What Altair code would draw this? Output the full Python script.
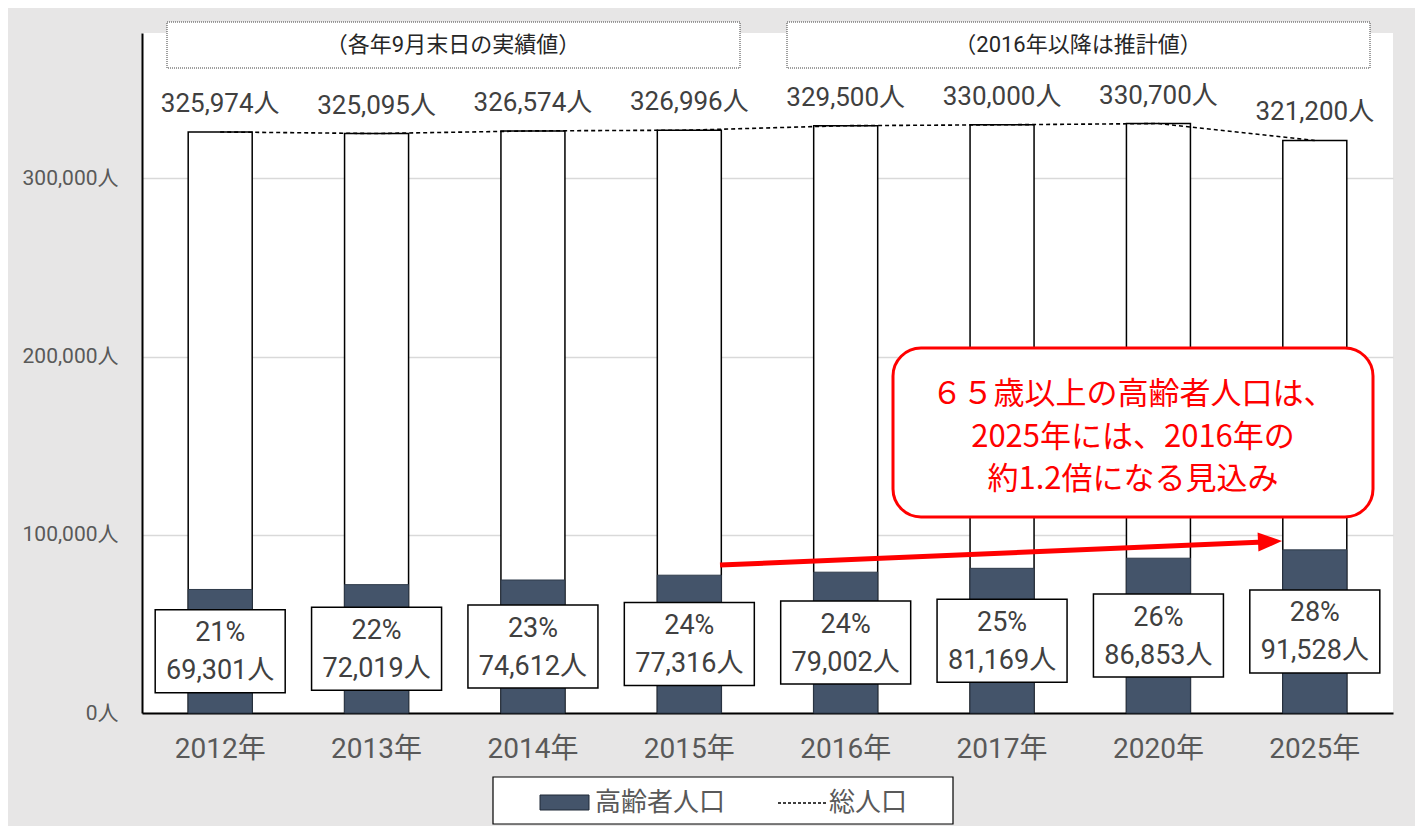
import altair as alt
import pandas as pd

years = ["2012年", "2013年", "2014年", "2015年", "2016年", "2017年", "2020年", "2025年"]
total = [325974, 325095, 326574, 326996, 329500, 330000, 330700, 321200]
elderly = [69301, 72019, 74612, 77316, 79002, 81169, 86853, 91528]
share = ["21%", "22%", "23%", "24%", "24%", "25%", "26%", "28%"]
y_ticks = [0, 100000, 200000, 300000]

df = pd.DataFrame({"year": years, "total": total, "elderly": elderly, "share": share})
df["total_label"] = [f"{v:,}人" for v in total]
df["box_label"] = [f"{s}\n{e:,}人" for s, e in zip(share, elderly)]
df["mid"] = df["elderly"] / 2

W, H = 1251, 680
YMAX = 381500
FONT = "Roboto, Noto Sans CJK JP"
JP = "Noto Sans CJK JP"
DARK = "#44546a"
RED = "#ff0000"

xaxis = alt.Axis(title=None, labelAngle=0, ticks=False, domainColor="black", domainWidth=2,
                 labelFontSize=28, labelColor="#595959", labelPadding=22, labelFont=FONT,
                 grid=False)
xscale = alt.Scale(paddingInner=0.5907, paddingOuter=0.2954)
yaxis = alt.Axis(title=None, values=y_ticks, labelExpr="format(datum.value, ',') + '人'",
                 ticks=False, domainColor="black", domainWidth=2, gridColor="#d9d9d9",
                 gridWidth=1.5, labelFontSize=21, labelColor="#595959", labelPadding=24,
                 labelFont=FONT)
yscale = alt.Scale(domain=[0, YMAX], nice=False, zero=True)


def X():
    return alt.X("year:N", sort=years, scale=xscale, axis=xaxis)


def Y(field):
    return alt.Y(field, scale=yscale, axis=yaxis)


base = alt.Chart(df)

tot_bar = base.mark_bar(fill="white", stroke="black", strokeWidth=1.5).encode(x=X(), y=Y("total:Q"))
eld_bar = base.mark_bar(fill=DARK, stroke="#2e3a4a", strokeWidth=1).encode(x=X(), y=Y("elderly:Q"))
line = base.mark_line(color="black", strokeDash=[4, 3], strokeWidth=1.6).encode(x=X(), y=Y("total:Q"))
tot_text = base.mark_text(dy=-28, fontSize=26, color="#404040", font=FONT).encode(
    x=X(), y=Y("total:Q"), text="total_label:N")
box = base.mark_point(
    shape="M-1,-0.6385L1,-0.6385L1,0.6385L-1,0.6385Z", size=16900, filled=True,
    fill="white", stroke="black", strokeWidth=1.5, opacity=1, fillOpacity=1, strokeOpacity=1,
).encode(x=X(), y=Y("mid:Q"))
box_text = base.mark_text(lineBreak="\n", lineHeight=38, fontSize=27, color="#404040", font=FONT,
                          baseline="middle", dy=-18).encode(x=X(), y=Y("mid:Q"), text="box_label:N")

one = alt.Chart(pd.DataFrame({"a": [0]}))

hdr1 = one.mark_rect(fill="white", stroke="#404040", strokeDash=[1, 1], strokeWidth=1).encode(
    x=alt.value(25), x2=alt.value(598), y=alt.value(-11), y2=alt.value(35))
hdr1_t = one.mark_text(text="（各年9月末日の実績値）", fontSize=22, color="#262626", font=FONT).encode(
    x=alt.value(311), y=alt.value(12))
hdr2 = one.mark_rect(fill="white", stroke="#404040", strokeDash=[1, 1], strokeWidth=1).encode(
    x=alt.value(645), x2=alt.value(1228), y=alt.value(-11), y2=alt.value(35))
hdr2_t = one.mark_text(text="（2016年以降は推計値）", fontSize=22, color="#262626", font=FONT).encode(
    x=alt.value(936), y=alt.value(12))

call = one.mark_rect(fill="white", stroke=RED, strokeWidth=3, cornerRadius=28).encode(
    x=alt.value(751), x2=alt.value(1231), y=alt.value(315), y2=alt.value(484))
call_lines = ["６５歳以上の高齢者人口は、", "2025年には、2016年の", "約1.2倍になる見込み"]
call_y = [362, 405, 447]
call_texts = [
    one.mark_text(text=t, fontSize=31, color=RED, font=JP).encode(x=alt.value(991), y=alt.value(yy))
    for t, yy in zip(call_lines, call_y)
]

arrow = one.mark_rule(color=RED, strokeWidth=5).encode(
    x=alt.value(578), x2=alt.value(1122), y=alt.value(532), y2=alt.value(509))
head = one.mark_point(shape="M-1,-0.8L1,0L-1,0.8Z", size=576, filled=True, fill=RED, color=RED,
                      opacity=1, angle=357.5).encode(x=alt.value(1128), y=alt.value(508.5))

leg_box = one.mark_rect(fill="white", stroke="black", strokeWidth=1.2).encode(
    x=alt.value(351), x2=alt.value(811), y=alt.value(744), y2=alt.value(791))
leg_sw = one.mark_rect(fill=DARK, stroke="#1f2937", strokeWidth=1).encode(
    x=alt.value(398), x2=alt.value(447), y=alt.value(762), y2=alt.value(777))
leg_t1 = one.mark_text(text="高齢者人口", fontSize=26, color="#595959", align="left", font=FONT).encode(
    x=alt.value(453), y=alt.value(770))
leg_ln = one.mark_rule(color="black", strokeDash=[3, 2], strokeWidth=1.5).encode(
    x=alt.value(636), x2=alt.value(684), y=alt.value(770))
leg_t2 = one.mark_text(text="総人口", fontSize=26, color="#595959", align="left", font=FONT).encode(
    x=alt.value(687), y=alt.value(770))

chart = alt.layer(
    tot_bar, eld_bar, line, tot_text, box, box_text,
    hdr1, hdr1_t, hdr2, hdr2_t, arrow, head, call, *call_texts,
    leg_box, leg_sw, leg_t1, leg_ln, leg_t2,
).properties(
    width=W, height=H,
    autosize=alt.AutoSizeParams(type="none"),
    padding={"left": 134, "top": 25, "right": 22, "bottom": 113},
    background="#e7e6e6",
).configure_view(fill="white", stroke=None)

chart.save("out.html", embed_options={"renderer": "svg", "actions": False})
